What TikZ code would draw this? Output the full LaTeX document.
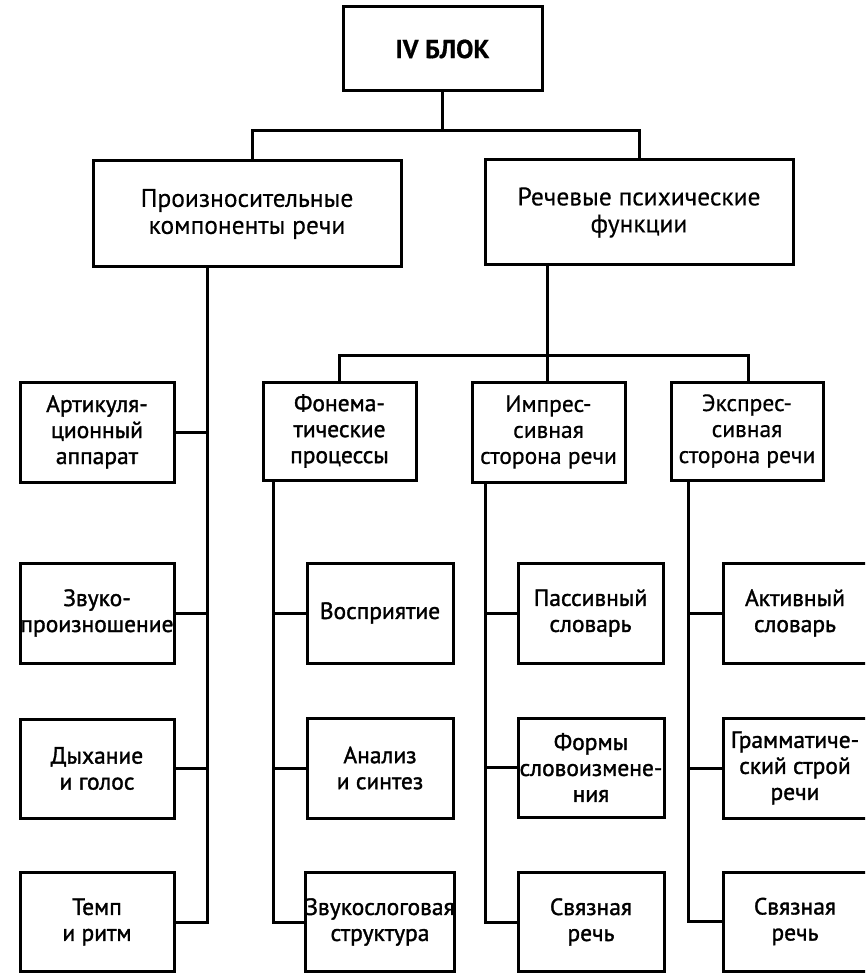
\documentclass[tikz,border=0pt]{standalone}
\usepackage{fontspec}
\setmainfont{PT Sans}[FakeBold=0.6]
\newfontfamily\heavyfont{PT Sans}[FakeBold=1.4]
\newfontfamily\lightfont{PT Sans}[FakeBold=0.3]
\begin{document}
\begin{tikzpicture}[x=1pt,y=-1pt,
  box/.style={draw, line width=3pt, inner sep=0pt, align=center,
    font=\fontsize{23.5}{26}\selectfont\heavyfont},
  conn/.style={line width=3pt, line cap=rect}]
\clip (0,0) rectangle (865,973);
\fill[white] (0,0) rectangle (865,973);
% level 1
\node[box, minimum width=199pt, minimum height=84pt, font=\fontsize{26}{28}\selectfont\bfseries] (top) at (442.5,49) {IV БЛОК};
% level 2
\node[box, minimum width=308pt, minimum height=106pt, font=\fontsize{25.5}{27}\selectfont\lightfont] (pk) at (247,214) {Произносительные\\компоненты речи};
\node[box, minimum width=308pt, minimum height=105pt, font=\fontsize{25.5}{27}\selectfont\lightfont] (rf) at (639,212.5) {Речевые психические\\функции};
% left column
\node[box, minimum width=154pt, minimum height=100pt] (art) at (97,432) {Артикуля-\\ционный\\аппарат};
\node[box, minimum width=154pt, minimum height=100pt] (zvp) at (97,613) {Звуко-\\произношение};
\node[box, minimum width=154pt, minimum height=99pt] (dyh) at (97,768.5) {Дыхание\\и голос};
\node[box, minimum width=154pt, minimum height=99pt] (tmp) at (97,922) {Темп\\и ритм};
% level 3
\node[box, minimum width=153pt, minimum height=98pt] (fon) at (339.5,431) {Фонема-\\тические\\процессы};
\node[box, minimum width=153pt, minimum height=100pt, font=\fontsize{23.5}{26}\selectfont] (imp) at (548.5,432) {Импрес-\\сивная\\сторона речи};
\node[box, minimum width=152pt, minimum height=98pt, font=\fontsize{23.5}{26}\selectfont] (exp) at (747,431) {Экспрес-\\сивная\\сторона речи};
% leaves
\node[box, minimum width=146pt, minimum height=100pt] (vos) at (380,613) {Восприятие};
\node[box, minimum width=146pt, minimum height=100pt] (ans) at (380,768) {Анализ\\и синтез};
\node[box, minimum width=146pt, minimum height=99pt] (zss) at (380,922) {Звукослоговая\\структура};
\node[box, minimum width=145pt, minimum height=100pt] (pas) at (590.5,613) {Пассивный\\словарь};
\node[box, minimum width=146pt, minimum height=99pt] (frm) at (591,767.5) {Формы\\словоизмене-\\ния};
\node[box, minimum width=146pt, minimum height=99pt] (sv1) at (591,922) {Связная\\речь};
\node[box, minimum width=144pt, minimum height=100pt] (akt) at (795,613) {Активный\\словарь};
\node[box, minimum width=144pt, minimum height=100pt] (grm) at (795,768) {Грамматиче-\\ский строй\\речи};
\node[box, minimum width=144pt, minimum height=99pt] (sv2) at (795,921.5) {Связная\\речь};
% junction coordinates
\coordinate (j1) at (443,131);
\coordinate (j2) at (547,355);
\coordinate (aN) at (252,161);
\coordinate (bN) at (639,160);
\coordinate (sL) at (207,267);
\coordinate (sR) at (547,265);
\coordinate (fN) at (339,382);
\coordinate (eN) at (748,382);
\coordinate (sF) at (273,480);
\coordinate (sI) at (485,482);
\coordinate (sE) at (688,480);
% connectors top
\draw[conn] (top.south) -- (top.south |- j1);
\draw[conn] (aN) -- (aN |- j1) -- (bN |- j1) -- (bN);
% left column
\draw[conn] (sL) -- (sL |- tmp.east) -- (tmp.east);
\draw[conn] (art.east) -- (art.east -| sL);
\draw[conn] (zvp.east) -- (zvp.east -| sL);
\draw[conn] (dyh.east) -- (dyh.east -| sL);
% level 3 bar
\draw[conn] (sR) -- (sR |- imp.north);
\draw[conn] (fN) -- (fN |- j2) -- (eN |- j2) -- (eN);
% phonematic
\draw[conn] (sF) -- (sF |- zss.west) -- (zss.west);
\draw[conn] (vos.west) -- (vos.west -| sF);
\draw[conn] (ans.west) -- (ans.west -| sF);
% impressive
\draw[conn] (sI) -- (sI |- sv1.west) -- (sv1.west);
\draw[conn] (pas.west) -- (pas.west -| sI);
\draw[conn] (frm.west) -- (frm.west -| sI);
% expressive
\draw[conn] (sE) -- (sE |- sv2.west) -- (sv2.west);
\draw[conn] (akt.west) -- (akt.west -| sE);
\draw[conn] (grm.west) -- (grm.west -| sE);
\end{tikzpicture}
\end{document}
